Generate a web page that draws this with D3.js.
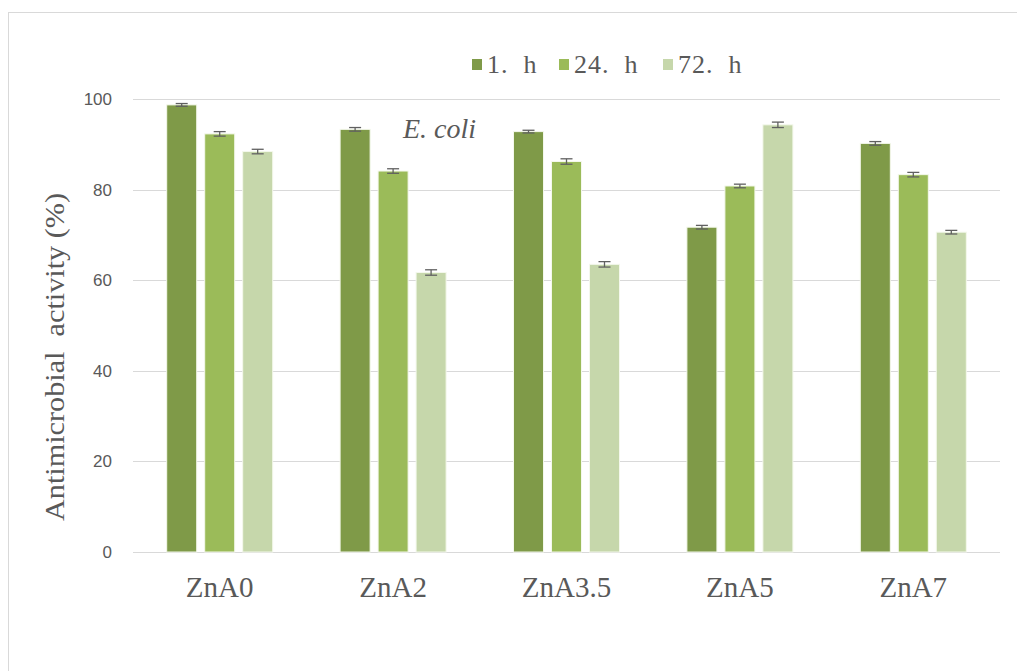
<!DOCTYPE html>
<html>
<head>
<meta charset="utf-8">
<script src="https://cdn.jsdelivr.net/npm/d3@7"></script>
<style>
  body { margin: 0; background: #fff; }
  svg { display: block; }
</style>
</head>
<body>
<div class="barchart"></div>
<script>
var categories = ['ZnA0', 'ZnA2', 'ZnA3.5', 'ZnA5', 'ZnA7'];
var seriesNames = ['1. h', '24. h', '72. h'];
var h1 = [98.7, 93.3, 92.8, 71.7, 90.2];
var h24 = [92.3, 84.1, 86.2, 80.8, 83.3];
var h72 = [88.4, 61.7, 63.5, 94.3, 70.6];
var err1 = [0.3, 0.4, 0.3, 0.4, 0.4];
var err24 = [0.5, 0.5, 0.6, 0.4, 0.5];
var err72 = [0.5, 0.6, 0.6, 0.6, 0.4];
var yTicks = [0, 20, 40, 60, 80, 100];

var width = 1017, height = 671;
var values = [h1, h24, h72];
var errors = [err1, err24, err72];
var serif = '"Liberation Serif"', sans = '"Liberation Sans"';

var color = d3.scaleOrdinal()
    .domain(seriesNames)
    .range(['#7f9a48', '#9bbb59', '#c6d7ab']);

var data = [];
categories.forEach(function(c, i) {
    seriesNames.forEach(function(s, j) {
        data.push({ cat: c, series: s, value: values[j][i], err: errors[j][i] });
    });
});

var x0 = d3.scaleBand()
    .domain(categories)
    .range([133, 1000])
    .paddingInner(0)
    .paddingOuter(0);

var x1 = d3.scaleBand()
    .domain(seriesNames)
    .range([0, x0.bandwidth()])
    .paddingInner(0.21)
    .paddingOuter(0.887);

var y = d3.scaleLinear()
    .domain([0, 100])
    .range([552, 99]);

var svg = d3.select('.barchart')
    .append('svg')
    .attr('width', width)
    .attr('height', height);

// outer frame
svg.append('line')
    .attr('x1', 8).attr('x2', width)
    .attr('y1', 12.5).attr('y2', 12.5)
    .attr('stroke', '#d9d9d9');
svg.append('line')
    .attr('x1', 8.5).attr('x2', 8.5)
    .attr('y1', 12).attr('y2', height)
    .attr('stroke', '#d9d9d9');

// grid
svg.append('g')
    .attr('class', 'grid')
    .selectAll('line')
    .data(yTicks)
    .enter().append('line')
    .attr('x1', x0.range()[0])
    .attr('x2', x0.range()[1])
    .attr('y1', function(d) { return Math.round(y(d)) + 0.5; })
    .attr('y2', function(d) { return Math.round(y(d)) + 0.5; })
    .attr('stroke', '#d9d9d9')
    .attr('stroke-width', 1.2);

// y tick labels
svg.append('g')
    .selectAll('text')
    .data(yTicks)
    .enter().append('text')
    .attr('x', 112)
    .attr('y', function(d) { return y(d) + 6; })
    .attr('text-anchor', 'end')
    .style('font-family', sans)
    .attr('font-size', 17)
    .attr('fill', '#595959')
    .text(function(d) { return d; });

// bars
var bars = svg.append('g').attr('class', 'bars');
bars.selectAll('rect')
    .data(data)
    .enter().append('rect')
    .attr('x', function(d) { return x0(d.cat) + x1(d.series); })
    .attr('width', x1.bandwidth())
    .attr('y', function(d) { return y(d.value); })
    .attr('height', function(d) { return y(0) - y(d.value); })
    .attr('fill', function(d) { return color(d.series); })
    .attr('stroke', '#f4f8ec')
    .attr('stroke-width', 1);

// error bars
var eb = svg.append('g')
    .attr('class', 'errorbars')
    .attr('stroke', '#606060')
    .attr('stroke-width', 1.3);
data.forEach(function(d) {
    var cx = x0(d.cat) + x1(d.series) + x1.bandwidth() / 2;
    var top = y(d.value + d.err), bot = y(d.value - d.err);
    eb.append('line').attr('x1', cx).attr('x2', cx).attr('y1', top).attr('y2', bot);
    eb.append('line').attr('x1', cx - 6).attr('x2', cx + 6).attr('y1', top).attr('y2', top);
    eb.append('line').attr('x1', cx - 6).attr('x2', cx + 6).attr('y1', bot).attr('y2', bot);
});

// category labels
svg.append('g')
    .selectAll('text')
    .data(categories)
    .enter().append('text')
    .attr('x', function(d) { return x0(d) + x0.bandwidth() / 2; })
    .attr('y', 597)
    .attr('text-anchor', 'middle')
    .style('font-family', serif)
    .attr('font-size', 29)
    .attr('fill', '#595959')
    .text(function(d) { return d; });

// y axis title
svg.append('text')
    .attr('transform', 'translate(64,357) rotate(-90)')
    .attr('text-anchor', 'middle')
    .style('font-family', serif)
    .attr('font-size', 27)
    .attr('fill', '#595959')
    .style('white-space', 'pre')
    .attr('textLength', 328)
    .attr('lengthAdjust', 'spacingAndGlyphs')
    .text('Antimicrobial  activity (%)');

// legend
var legendX = [472, 559, 663];
var legend = svg.append('g').attr('class', 'legend');
seriesNames.forEach(function(s, i) {
    legend.append('rect')
        .attr('x', legendX[i]).attr('y', 59)
        .attr('width', 10).attr('height', 11)
        .attr('fill', color(s));
    legend.append('text')
        .attr('x', legendX[i] + 15)
        .attr('y', 73)
        .style('font-family', serif)
        .attr('font-size', 26)
        .style('letter-spacing', '1px')
        .attr('fill', '#595959')
        .style('white-space', 'pre')
        .text(s.replace(' ', '  '));
});

// annotation
svg.append('text')
    .attr('x', 403)
    .attr('y', 138)
    .style('font-family', serif)
    .attr('font-style', 'italic')
    .attr('font-size', 28)
    .attr('fill', '#595959')
    .text('E. coli');
</script>
</body>
</html>
